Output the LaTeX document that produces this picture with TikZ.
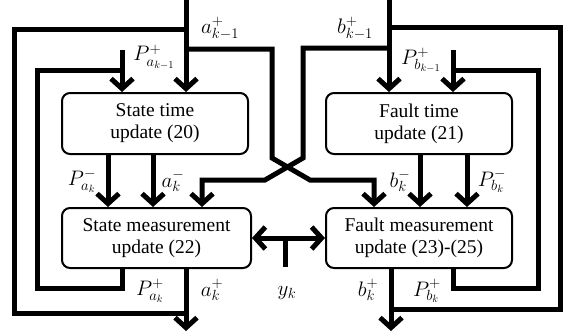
\RequirePackage{fix-cm}
\documentclass[tikz,border=0pt]{standalone}
\usepackage{fontspec}
\setmainfont{Liberation Serif}
\usetikzlibrary{arrows.meta}
\begin{document}
\begin{tikzpicture}[x=1pt,y=-1pt,
  box/.style={draw, line width=2pt, rounded corners=8pt, align=center,
    font=\fontsize{19.5}{22}\selectfont, inner sep=0pt},
  wire/.style={line width=5pt},
  arr/.style={wire, -{Straight Barb[length=10pt,width=22pt]}},
  darr/.style={wire, {Straight Barb[length=10pt,width=22pt]}-{Straight Barb[length=10pt,width=22pt]}},
  lbl/.style={font=\fontsize{21}{24}\selectfont, inner sep=0pt}]
\useasboundingbox (0,0) rectangle (571,333);
% boxes
\node[box, minimum width=186pt, minimum height=61pt] (st) at (155,123.5) {State time\\update (20)};
\node[box, minimum width=186pt, minimum height=61pt] (ft) at (419,123.5) {Fault time\\update (21)};
\node[box, minimum width=189pt, minimum height=60pt] (sm) at (156.5,238) {State measurement\\update (22)};
\node[box, minimum width=186pt, minimum height=60pt] (fm) at (419,238) {Fault measurement\\update (23)-(25)};
% left: a
\coordinate (ain) at (186,0);
\coordinate (aout) at (186,331);
\draw[arr] (ain) -- (ain |- st.north);
\draw[arr] (sm.south -| aout) -- (aout);
\coordinate (al1) at (186,313);
\coordinate (al2) at (14,313);
\coordinate (al3) at (14,29);
\coordinate (al4) at (186,29);
\draw[wire] (al1) -- (al2) -- (al3) -- (al4);
% left: P
\coordinate (pain) at (122,50);
\draw[arr] (pain) -- (pain |- st.north);
\coordinate (pl1) at (122,288);
\coordinate (pl2) at (37,288);
\coordinate (pl3) at (37,70);
\coordinate (pl4) at (122,70);
\draw[wire] (sm.south -| pain) -- (pl1) -- (pl2) -- (pl3) -- (pl4);
% st outputs
\coordinate (o1) at (108,0);
\coordinate (o2) at (153,0);
\draw[arr] (st.south -| o1) -- (sm.north -| o1);
\draw[arr] (st.south -| o2) -- (sm.north -| o2);
% right: b
\coordinate (bin) at (389,0);
\coordinate (bout) at (391,331);
\draw[arr] (bin) -- (bin |- ft.north);
\draw[arr] (fm.south -| bout) -- (bout);
\coordinate (bl1) at (391,309);
\coordinate (bl2) at (560,309);
\coordinate (bl3) at (560,27);
\coordinate (bl4) at (389,27);
\draw[wire] (bl1) -- (bl2) -- (bl3) -- (bl4);
% right: P
\coordinate (pbin) at (453,50);
\draw[arr] (pbin) -- (pbin |- ft.north);
\coordinate (ql1) at (453,288);
\coordinate (ql2) at (538,288);
\coordinate (ql3) at (538,70);
\coordinate (ql4) at (453,70);
\draw[wire] (fm.south -| pbin) -- (ql1) -- (ql2) -- (ql3) -- (ql4);
% ft outputs
\coordinate (o3) at (420,0);
\coordinate (o4) at (467,0);
\draw[arr] (ft.south -| o3) -- (fm.north -| o3);
\draw[arr] (ft.south -| o4) -- (fm.north -| o4);
% crossing branches
\coordinate (ca1) at (186,49);
\coordinate (ca2) at (272,49);
\coordinate (ca3) at (272,158);
\coordinate (ca4) at (310,180);
\coordinate (ca5) at (374,180);
\draw[arr] (ca1) -- (ca2) -- (ca3) -- (ca4) -- (ca5) -- (ca5 |- fm.north);
\coordinate (cb1) at (389,48);
\coordinate (cb2) at (303,48);
\coordinate (cb3) at (303,158);
\coordinate (cb4) at (265,180);
\coordinate (cb5) at (202,180);
\draw[arr] (cb1) -- (cb2) -- (cb3) -- (cb4) -- (cb5) -- (cb5 |- sm.north);
% y_k
\coordinate (yk) at (285,267);
\draw[wire] (yk) -- (yk |- sm.east);
\draw[darr] (sm.east) -- (fm.west);
% labels
\node[lbl] (l1) at (220,28) {$a_{k-1}^+$};
\node[lbl] (l2) at (154,57) {$P_{a_{k-1}}^+$};
\node[lbl] (l3) at (355,28) {$b_{k-1}^+$};
\node[lbl] (l4) at (421,60) {$P_{b_{k-1}}^+$};
\node[lbl] (l5) at (82,181) {$P_{a_k}^-$};
\node[lbl] (l6) at (173,181) {$a_k^-$};
\node[lbl] (l7) at (400,181) {$b_k^-$};
\node[lbl] (l8) at (492,181) {$P_{b_k}^-$};
\node[lbl] (l9) at (150,291) {$P_{a_k}^+$};
\node[lbl] (l10) at (212,290) {$a_k^+$};
\node[lbl] (l11) at (287,293) {$y_k$};
\node[lbl] (l12) at (368,290) {$b_k^+$};
\node[lbl] (l13) at (427,291) {$P_{b_k}^+$};
\end{tikzpicture}
\end{document}
